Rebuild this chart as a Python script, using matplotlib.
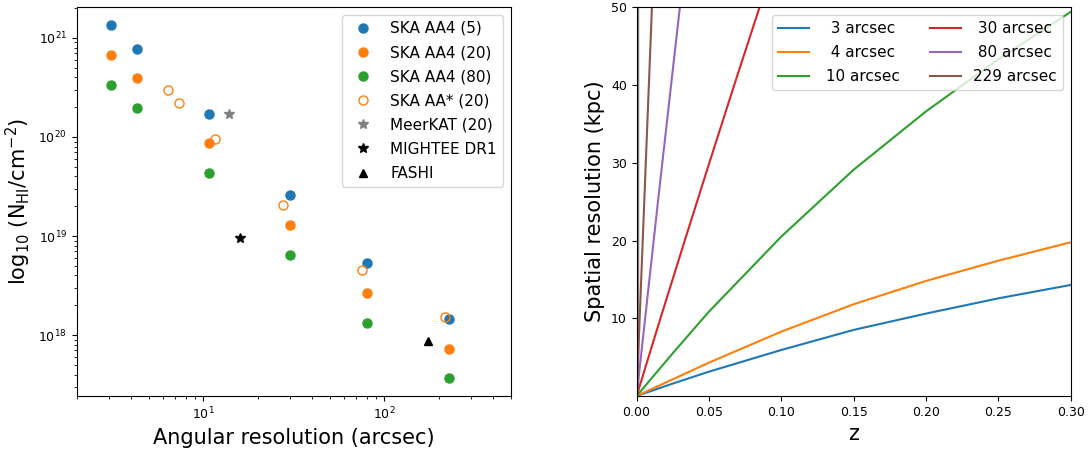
import matplotlib.pyplot as plt

# left panel: column density sensitivity vs angular resolution
ska_res = [3.1, 4.3, 10.7, 30, 80, 229]
ska_aa4_5 = [1.34e21, 7.8e20, 1.72e20, 2.62e19, 5.3e18, 1.47e18]
ska_aa4_20 = [6.7e20, 3.9e20, 8.6e19, 1.3e19, 2.65e18, 7.2e17]
ska_aa4_80 = [3.33e20, 1.96e20, 4.3e19, 6.5e18, 1.33e18, 3.66e17]
aastar_res = [6.4, 7.36, 11.6, 27.7, 75.5, 216]
aastar_20 = [3.0e20, 2.19e20, 9.5e19, 2.04e19, 4.5e18, 1.52e18]
meerkat_res, meerkat_nhi = [13.9], [1.72e20]
mightee_res, mightee_nhi = [16.0], [9.5e18]
fashi_res, fashi_nhi = [174], [8.8e17]

# right panel: spatial resolution (kpc) vs redshift
z = [0, 0.025, 0.05, 0.10, 0.15, 0.20, 0.25, 0.30]
kpc_3 = [0, 1.6, 3.13, 5.92, 8.5, 10.6, 12.56, 14.28]
kpc_4 = [0, 2.15, 4.29, 8.28, 11.8, 14.8, 17.4, 19.77]
kpc_10 = [0, 5.5, 10.85, 20.5, 29.1, 36.6, 43.3, 49.4]
z_30 = [0, 0.0165, 0.0333, 0.0503, 0.0675, 0.085]
kpc_30 = [0, 10, 20, 30, 40, 50]
z_80 = [0, 0.0150, 0.0299]
kpc_80 = [0, 25.4, 50]
z_229 = [0, 0.0106]
kpc_229 = [0, 50]

fig, (ax1, ax2) = plt.subplots(1, 2, figsize=(10.9, 4.53), dpi=100)
fig.subplots_adjust(left=0.0704, right=0.9822, bottom=0.1258, top=0.984, wspace=0.29)

ms = 6.5
ax1.plot(ska_res, ska_aa4_5, 'o', color='tab:blue', ms=ms, label='SKA AA4 (5)')
ax1.plot(ska_res, ska_aa4_20, 'o', color='tab:orange', ms=ms, label='SKA AA4 (20)')
ax1.plot(ska_res, ska_aa4_80, 'o', color='tab:green', ms=ms, label='SKA AA4 (80)')
ax1.plot(aastar_res, aastar_20, 'o', mfc='none', mec='tab:orange', ms=ms, label='SKA AA* (20)')
ax1.plot(meerkat_res, meerkat_nhi, '*', color='grey', ms=7, label='MeerKAT (20)')
ax1.plot(mightee_res, mightee_nhi, '*', color='black', ms=7, label='MIGHTEE DR1')
ax1.plot(fashi_res, fashi_nhi, '^', color='black', ms=6, label='FASHI')
ax1.set_xscale('log')
ax1.set_yscale('log')
ax1.set_xlim(2, 500)
ax1.set_ylim(2.43e17, 2.04e21)
ax1.tick_params(labelsize=9)
ax1.set_xlabel('Angular resolution (arcsec)', fontsize=15)
ax1.set_ylabel(r'log$_{10}$ (N$_{\rm HI}$/cm$^{-2}$)', fontsize=15)
ax1.legend(loc='upper right', fontsize=11, labelspacing=0.6)

ax2.axvline(0, color='grey', lw=2.5)
ax2.plot(z, kpc_3, label='  3 arcsec')
ax2.plot(z, kpc_4, label='  4 arcsec')
ax2.plot(z, kpc_10, label=' 10 arcsec')
ax2.plot(z_30, kpc_30, label=' 30 arcsec')
ax2.plot(z_80, kpc_80, label=' 80 arcsec')
ax2.plot(z_229, kpc_229, label='229 arcsec')
ax2.set_xlim(0, 0.3)
ax2.set_ylim(0, 50)
ax2.set_yticks([10, 20, 30, 40, 50])
ax2.tick_params(labelsize=9)
ax2.set_xlabel('z', fontsize=15)
ax2.set_ylabel('Spatial resolution (kpc)', fontsize=15)
ax2.legend(loc='upper right', ncol=2, fontsize=11, labelspacing=0.6)

plt.savefig('out.png')
